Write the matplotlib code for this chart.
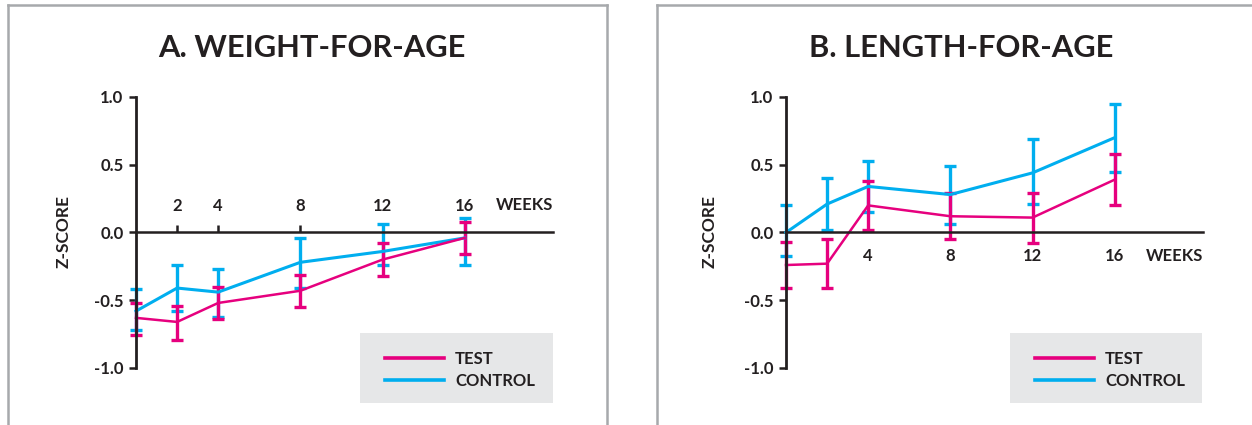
import matplotlib
matplotlib.use("Agg")
import matplotlib.pyplot as plt
from matplotlib.lines import Line2D
from matplotlib.patches import Rectangle

plt.rcParams['font.family'] = ['Lato', 'DejaVu Sans']
plt.rcParams['font.weight'] = 'bold'

# ---- data ----
weeks = [0, 2, 4, 8, 12, 16]

# A. Weight-for-age
wfa_test = [-0.63, -0.66, -0.52, -0.43, -0.20, -0.04]
wfa_test_lo = [-0.76, -0.79, -0.64, -0.55, -0.32, -0.16]
wfa_test_hi = [-0.52, -0.54, -0.40, -0.31, -0.08, 0.08]
wfa_ctrl = [-0.58, -0.41, -0.44, -0.22, -0.14, -0.04]
wfa_ctrl_lo = [-0.72, -0.58, -0.62, -0.41, -0.24, -0.24]
wfa_ctrl_hi = [-0.42, -0.24, -0.27, -0.04, 0.06, 0.11]

# B. Length-for-age
lfa_test = [-0.24, -0.23, 0.20, 0.12, 0.11, 0.39]
lfa_test_lo = [-0.41, -0.41, 0.02, -0.05, -0.08, 0.20]
lfa_test_hi = [-0.07, -0.05, 0.38, 0.29, 0.29, 0.58]
lfa_ctrl = [0.00, 0.21, 0.34, 0.28, 0.44, 0.70]
lfa_ctrl_lo = [-0.17, 0.02, 0.15, 0.06, 0.21, 0.45]
lfa_ctrl_hi = [0.20, 0.40, 0.53, 0.49, 0.69, 0.95]

yticks = [-1.0, -0.5, 0.0, 0.5, 1.0]
ytick_labels = ['-1.0', '-0.5', '0.0', '0.5', '1.0']
wfa_xticks = [2, 4, 8, 12, 16]
lfa_xticks = [4, 8, 12, 16]
titles = ['A. WEIGHT-FOR-AGE', 'B. LENGTH-FOR-AGE']
series_names = ['TEST', 'CONTROL']

PINK = '#E6007E'
BLUE = '#00AEEF'
DARK = '#231F20'
FRAME = '#A7A9AC'
LEGBG = '#E6E7E8'

FS = 12
W, H = 1252, 425
fig = plt.figure(figsize=(W / 100, H / 100), dpi=100)


def fx(px):
    return px / W


def fy(py):
    return 1 - py / H


def make_axes(x0, x1):
    return fig.add_axes([fx(x0), fy(368), fx(x1) - fx(x0), (368 - 97) / H])


def draw_series(ax, y, lo, hi, color, lw):
    yerr = [[v - l for v, l in zip(y, lo)], [h - v for v, h in zip(y, hi)]]
    cont = ax.errorbar(weeks, y, yerr=yerr, color=color, lw=lw, elinewidth=2.4,
                       capsize=4.3, capthick=2.4, clip_on=False)
    for art in list(cont.lines[1]) + list(cont.lines[2]):
        art.set_clip_on(False)
    cont.lines[0].set_clip_on(False)
    return cont


def style_common(ax):
    ax.set_xlim(0, 20.3)
    ax.set_ylim(-1, 1)
    ax.set_facecolor('none')
    ax.set_yticks(yticks)
    ax.set_yticklabels(ytick_labels)
    ax.tick_params(axis='y', direction='out', length=5, width=1.8, color=DARK,
                   labelsize=FS, labelcolor=DARK, pad=4)
    ax.spines['left'].set_linewidth(2.0)
    ax.spines['left'].set_color(DARK)
    ax.spines['right'].set_visible(False)
    for lab in ax.get_yticklabels():
        lab.set_fontweight('bold')


# ---- Panel A ----
axA = make_axes(136, 553)
style_common(axA)
axA.spines['bottom'].set_visible(False)
axA.spines['top'].set_position(('data', 0))
axA.spines['top'].set_linewidth(1.8)
axA.spines['top'].set_color(DARK)
axA.xaxis.set_ticks_position('top')
axA.xaxis.set_label_position('top')
axA.set_xticks(wfa_xticks)
axA.set_xticklabels([str(w) for w in wfa_xticks])
axA.tick_params(axis='x', direction='out', length=5, width=1.8, color=DARK,
                labelsize=FS, labelcolor=DARK, pad=8)
for lab in axA.get_xticklabels():
    lab.set_fontweight('bold')
draw_series(axA, wfa_ctrl, wfa_ctrl_lo, wfa_ctrl_hi, BLUE, 2.2)
draw_series(axA, wfa_test, wfa_test_lo, wfa_test_hi, PINK, 1.8)
axA.text(1.0, 0.2, 'WEEKS', transform=axA.get_yaxis_transform(), ha='right', va='center',
         fontsize=FS, fontweight='bold', color=DARK)

# ---- Panel B ----
axB = make_axes(786, 1203)
style_common(axB)
axB.spines['top'].set_visible(False)
axB.spines['bottom'].set_position(('data', 0))
axB.spines['bottom'].set_linewidth(1.8)
axB.spines['bottom'].set_color(DARK)
axB.set_xticks(lfa_xticks)
axB.set_xticklabels([str(w) for w in lfa_xticks])
axB.tick_params(axis='x', direction='out', length=0, labelsize=FS, labelcolor=DARK, pad=11.5)
for lab in axB.get_xticklabels():
    lab.set_fontweight('bold')
draw_series(axB, lfa_ctrl, lfa_ctrl_lo, lfa_ctrl_hi, BLUE, 2.2)
draw_series(axB, lfa_test, lfa_test_lo, lfa_test_hi, PINK, 1.8)
axB.text(1.0, -0.17, 'WEEKS', transform=axB.get_yaxis_transform(), ha='right', va='center',
         fontsize=FS, fontweight='bold', color=DARK)

for ax, dx in ((axA, 64), (axB, 68)):
    ax.set_ylabel('Z-SCORE', fontsize=12.5, fontweight='bold', color=DARK)
    ax.yaxis.set_label_coords(-(dx) / 417, 0.502)

# ---- titles ----
fig.text(fx(312), fy(48), titles[0], ha='center', va='center', fontsize=22.2,
         fontweight='bold', color=DARK)
fig.text(fx(961), fy(48), titles[1], ha='center', va='center', fontsize=22.2,
         fontweight='bold', color=DARK)

# ---- panel frames ----
lwf = 1.8
fig.add_artist(Line2D([fx(8), fx(8)], [fy(5), fy(430)], color=FRAME, lw=lwf))
fig.add_artist(Line2D([fx(8), fx(607)], [fy(5), fy(5)], color=FRAME, lw=lwf))
fig.add_artist(Line2D([fx(607), fx(607)], [fy(5), fy(430)], color=FRAME, lw=lwf))
fig.add_artist(Line2D([fx(657), fx(657)], [fy(5), fy(430)], color=FRAME, lw=lwf))
fig.add_artist(Line2D([fx(657), fx(1260)], [fy(5), fy(5)], color=FRAME, lw=lwf))

# ---- legends ----
handles = [Line2D([], [], color=PINK, lw=2.6), Line2D([], [], color=BLUE, lw=2.6)]
for bx0, bx1 in ((360, 553), (1010, 1202)):
    fig.add_artist(Rectangle((fx(bx0), fy(403)), fx(bx1) - fx(bx0), (403 - 333) / H,
                             transform=fig.transFigure, facecolor=LEGBG, edgecolor='none',
                             zorder=0))
    leg = fig.legend(handles, series_names, loc='center left',
                     bbox_to_anchor=(fx(bx0 + 25), fy(370)), frameon=False,
                     prop={'size': FS, 'weight': 'bold'}, handlelength=3.55,
                     handletextpad=0.66, labelspacing=0.38, borderpad=0,
                     borderaxespad=0)
    for t in leg.get_texts():
        t.set_color(DARK)

fig.savefig('out.png', dpi=100)
